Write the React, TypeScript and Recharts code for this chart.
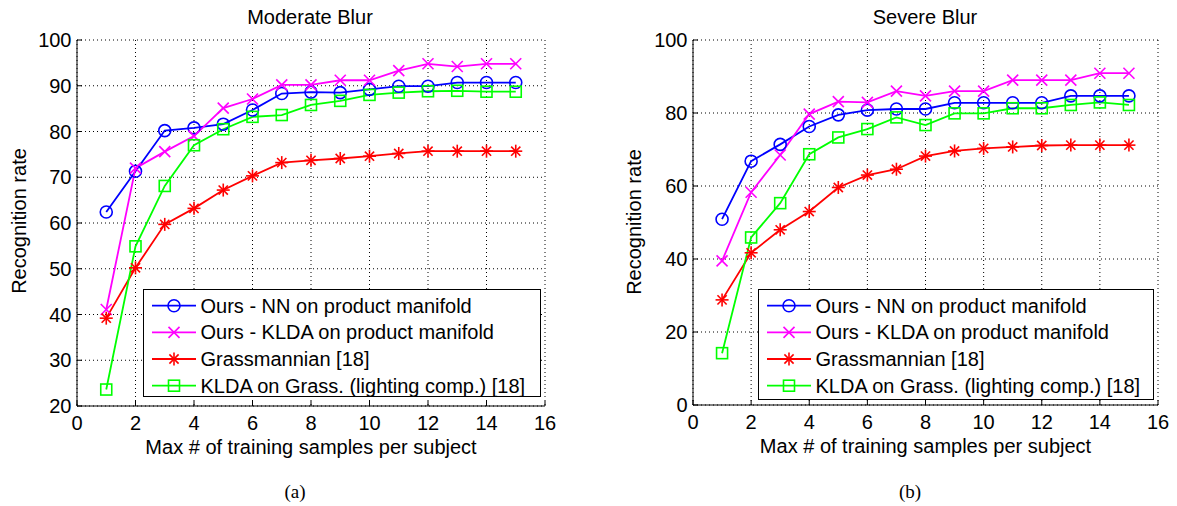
import React from 'react';
import { LineChart, Line, XAxis, YAxis, CartesianGrid, Legend } from 'recharts';

// ---------- data ----------
const samples = [1, 2, 3, 4, 5, 6, 7, 8, 9, 10, 11, 12, 13, 14, 15];

const seriesNames = [
  'Ours - NN on product manifold',
  'Ours - KLDA on product manifold',
  'Grassmannian [18]',
  'KLDA on Grass. (lighting comp.) [18]',
];

const xTicks = [0, 2, 4, 6, 8, 10, 12, 14, 16];
const yTicksModerate = [20, 30, 40, 50, 60, 70, 80, 90, 100];
const yTicksSevere = [0, 20, 40, 60, 80, 100];

const titles = ['Moderate Blur', 'Severe Blur'];
const captions = ['(a)', '(b)'];
const xLabel = 'Max # of training samples per subject';
const yLabel = 'Recognition rate';

// Moderate blur
const nnModerate = [62.4, 71.3, 80.2, 80.8, 81.6, 84.7, 88.3, 88.6, 88.5, 89.2, 89.9, 89.9, 90.7, 90.7, 90.7];
const kldaModerate = [41.1, 72.0, 75.6, 79.0, 85.1, 87.1, 90.2, 90.2, 91.2, 91.2, 93.3, 94.8, 94.2, 94.8, 94.8];
const grassModerate = [39.2, 50.2, 59.7, 63.2, 67.2, 70.3, 73.2, 73.7, 74.1, 74.6, 75.2, 75.7, 75.7, 75.7, 75.7];
const kldaGrassModerate = [23.6, 54.9, 68.1, 77.0, 80.5, 83.2, 83.6, 85.8, 86.7, 88.0, 88.5, 88.8, 88.9, 88.7, 88.7];

// Severe blur
const nnSevere = [50.9, 66.8, 71.4, 76.3, 79.5, 80.8, 81.1, 81.1, 82.8, 82.8, 82.8, 82.8, 84.7, 84.7, 84.7];
const kldaSevere = [39.5, 58.3, 68.5, 79.7, 83.1, 82.9, 86.0, 84.7, 86.0, 86.0, 89.0, 89.0, 89.0, 90.9, 90.9];
const grassSevere = [28.8, 41.7, 48.0, 53.0, 59.6, 63.0, 64.6, 68.2, 69.6, 70.3, 70.7, 71.1, 71.2, 71.2, 71.2];
const kldaGrassSevere = [14.2, 45.9, 55.3, 68.7, 73.3, 75.6, 78.8, 76.7, 79.9, 79.9, 81.3, 81.3, 82.2, 82.9, 82.2];

const moderateData = samples.map((x, i) => ({
  x,
  nn: nnModerate[i],
  klda: kldaModerate[i],
  grass: grassModerate[i],
  kldaGrass: kldaGrassModerate[i],
}));

const severeData = samples.map((x, i) => ({
  x,
  nn: nnSevere[i],
  klda: kldaSevere[i],
  grass: grassSevere[i],
  kldaGrass: kldaGrassSevere[i],
}));

// ---------- styles ----------
const FONT = '"Liberation Sans", Arial, Helvetica, sans-serif';
const SERIF = '"Liberation Serif", "Times New Roman", Times, serif';
const FS = 20;

type Shape = 'circle' | 'x' | 'star' | 'square';
const seriesStyle: { key: string; color: string; shape: Shape }[] = [
  { key: 'nn', color: '#0000ff', shape: 'circle' },
  { key: 'klda', color: '#ff00ff', shape: 'x' },
  { key: 'grass', color: '#ff0000', shape: 'star' },
  { key: 'kldaGrass', color: '#00ff00', shape: 'square' },
];

function Marker({ shape, cx, cy, color }: { shape: Shape; cx: number; cy: number; color: string }) {
  if (cx == null || cy == null || isNaN(cx) || isNaN(cy)) return null;
  const sw = 1.6;
  if (shape === 'circle') {
    return <circle cx={cx} cy={cy} r={6} fill="none" stroke={color} strokeWidth={sw} />;
  }
  if (shape === 'square') {
    return <rect x={cx - 5.5} y={cy - 5.5} width={11} height={11} fill="none" stroke={color} strokeWidth={sw} />;
  }
  if (shape === 'x') {
    const s = 5.5;
    return (
      <g stroke={color} strokeWidth={sw}>
        <line x1={cx - s} y1={cy - s} x2={cx + s} y2={cy + s} />
        <line x1={cx - s} y1={cy + s} x2={cx + s} y2={cy - s} />
      </g>
    );
  }
  const s = 6.5;
  const d = 4.6;
  return (
    <g stroke={color} strokeWidth={sw}>
      <line x1={cx} y1={cy - s} x2={cx} y2={cy + s} />
      <line x1={cx - s} y1={cy} x2={cx + s} y2={cy} />
      <line x1={cx - d} y1={cy - d} x2={cx + d} y2={cy + d} />
      <line x1={cx - d} y1={cy + d} x2={cx + d} y2={cy - d} />
    </g>
  );
}

function LegendBox({ width, height }: { width: number; height: number }) {
  const rowY = [16.7, 43.4, 70, 96.7];
  return (
    <svg width={width} height={height} style={{ display: 'block' }}>
      <rect x={0.5} y={0.5} width={width - 1} height={height - 1} fill="#fff" stroke="#000" strokeWidth={1} />
      {seriesStyle.map((s, i) => (
        <g key={s.key}>
          <line x1={9} y1={rowY[i]} x2={53} y2={rowY[i]} stroke={s.color} strokeWidth={1.8} />
          <Marker shape={s.shape} cx={31} cy={rowY[i]} color={s.color} />
          <text x={57.5} y={rowY[i] + 7} fontSize={FS} fontFamily={FONT} fill="#000">
            {seriesNames[i]}
          </text>
        </g>
      ))}
    </svg>
  );
}

type PanelProps = {
  data: any[];
  width: number;
  height: number;
  margin: { top: number; right: number; bottom: number; left: number };
  yDomain: [number, number];
  yTicks: number[];
  legendPos: { left: number; top: number; width: number; height: number };
};

function Panel({ data, width, height, margin, yDomain, yTicks, legendPos }: PanelProps) {
  const tick = { fill: '#000', fontSize: FS, fontFamily: FONT };
  return (
    <LineChart width={width} height={height} data={data} margin={margin}>
      <CartesianGrid stroke="#000" strokeDasharray="1 3" strokeWidth={1} />
      <XAxis
        dataKey="x"
        type="number"
        domain={[0, 16]}
        ticks={xTicks}
        interval={0}
        height={30}
        tickSize={-5}
        tickMargin={15}
        tick={tick}
        axisLine={{ stroke: '#000', strokeWidth: 1 }}
        tickLine={{ stroke: '#000' }}
        label={{ value: xLabel, position: 'bottom', offset: 4, fill: '#000', fontSize: FS, fontFamily: FONT }}
      />
      <YAxis
        type="number"
        domain={yDomain}
        ticks={yTicks}
        interval={0}
        width={60}
        tickSize={-5}
        tickMargin={10.5}
        tick={tick}
        axisLine={{ stroke: '#000', strokeWidth: 1 }}
        tickLine={{ stroke: '#000' }}
      />
      {seriesStyle.map((s, i) => (
        <Line
          key={s.key}
          dataKey={s.key}
          name={seriesNames[i]}
          type="linear"
          stroke={s.color}
          strokeWidth={1.8}
          isAnimationActive={false}
          activeDot={false}
          dot={(p: any) => <Marker key={`${s.key}-${p.index}`} shape={s.shape} cx={p.cx} cy={p.cy} color={s.color} />}
        />
      ))}
      <Legend
        layout="vertical"
        align="center"
        verticalAlign="middle"
        wrapperStyle={{
          position: 'absolute',
          left: legendPos.left,
          top: legendPos.top,
          width: legendPos.width,
          height: legendPos.height,
        }}
        content={() => <LegendBox width={legendPos.width} height={legendPos.height} />}
      />
    </LineChart>
  );
}

export default function App() {
  return (
    <div
      style={{
        position: 'absolute',
        left: 0,
        top: 0,
        width: 1177,
        height: 506,
        background: '#fff',
        overflow: 'hidden',
      }}
    >
      <div style={{ position: 'absolute', left: 0, top: 0 }}>
        <Panel
          data={moderateData}
          width={570}
          height={470}
          margin={{ top: 40, right: 25, bottom: 34, left: 17 }}
          yDomain={[20, 100]}
          yTicks={yTicksModerate}
          legendPos={{ left: 143, top: 289, width: 398, height: 108 }}
        />
      </div>
      <div style={{ position: 'absolute', left: 616, top: 0 }}>
        <Panel
          data={severeData}
          width={561}
          height={470}
          margin={{ top: 40, right: 19, bottom: 35, left: 17 }}
          yDomain={[0, 100]}
          yTicks={yTicksSevere}
          legendPos={{ left: 142, top: 289, width: 396, height: 111 }}
        />
      </div>
      <svg
        width={1177}
        height={506}
        style={{ position: 'absolute', left: 0, top: 0, pointerEvents: 'none' }}
      >
        <text x={310} y={24} textAnchor="middle" fontSize={FS} fontFamily={FONT} fill="#000">
          {titles[0]}
        </text>
        <text x={925} y={24} textAnchor="middle" fontSize={FS} fontFamily={FONT} fill="#000">
          {titles[1]}
        </text>
        <text
          transform="translate(26,221) rotate(-90)"
          textAnchor="middle"
          fontSize={FS}
          fontFamily={FONT}
          fill="#000"
        >
          {yLabel}
        </text>
        <text
          transform="translate(641,222) rotate(-90)"
          textAnchor="middle"
          fontSize={FS}
          fontFamily={FONT}
          fill="#000"
        >
          {yLabel}
        </text>
        <text x={295} y={498} textAnchor="middle" fontSize={19} fontFamily={SERIF} fill="#000">
          {captions[0]}
        </text>
        <text x={910} y={498} textAnchor="middle" fontSize={19} fontFamily={SERIF} fill="#000">
          {captions[1]}
        </text>
      </svg>
    </div>
  );
}
